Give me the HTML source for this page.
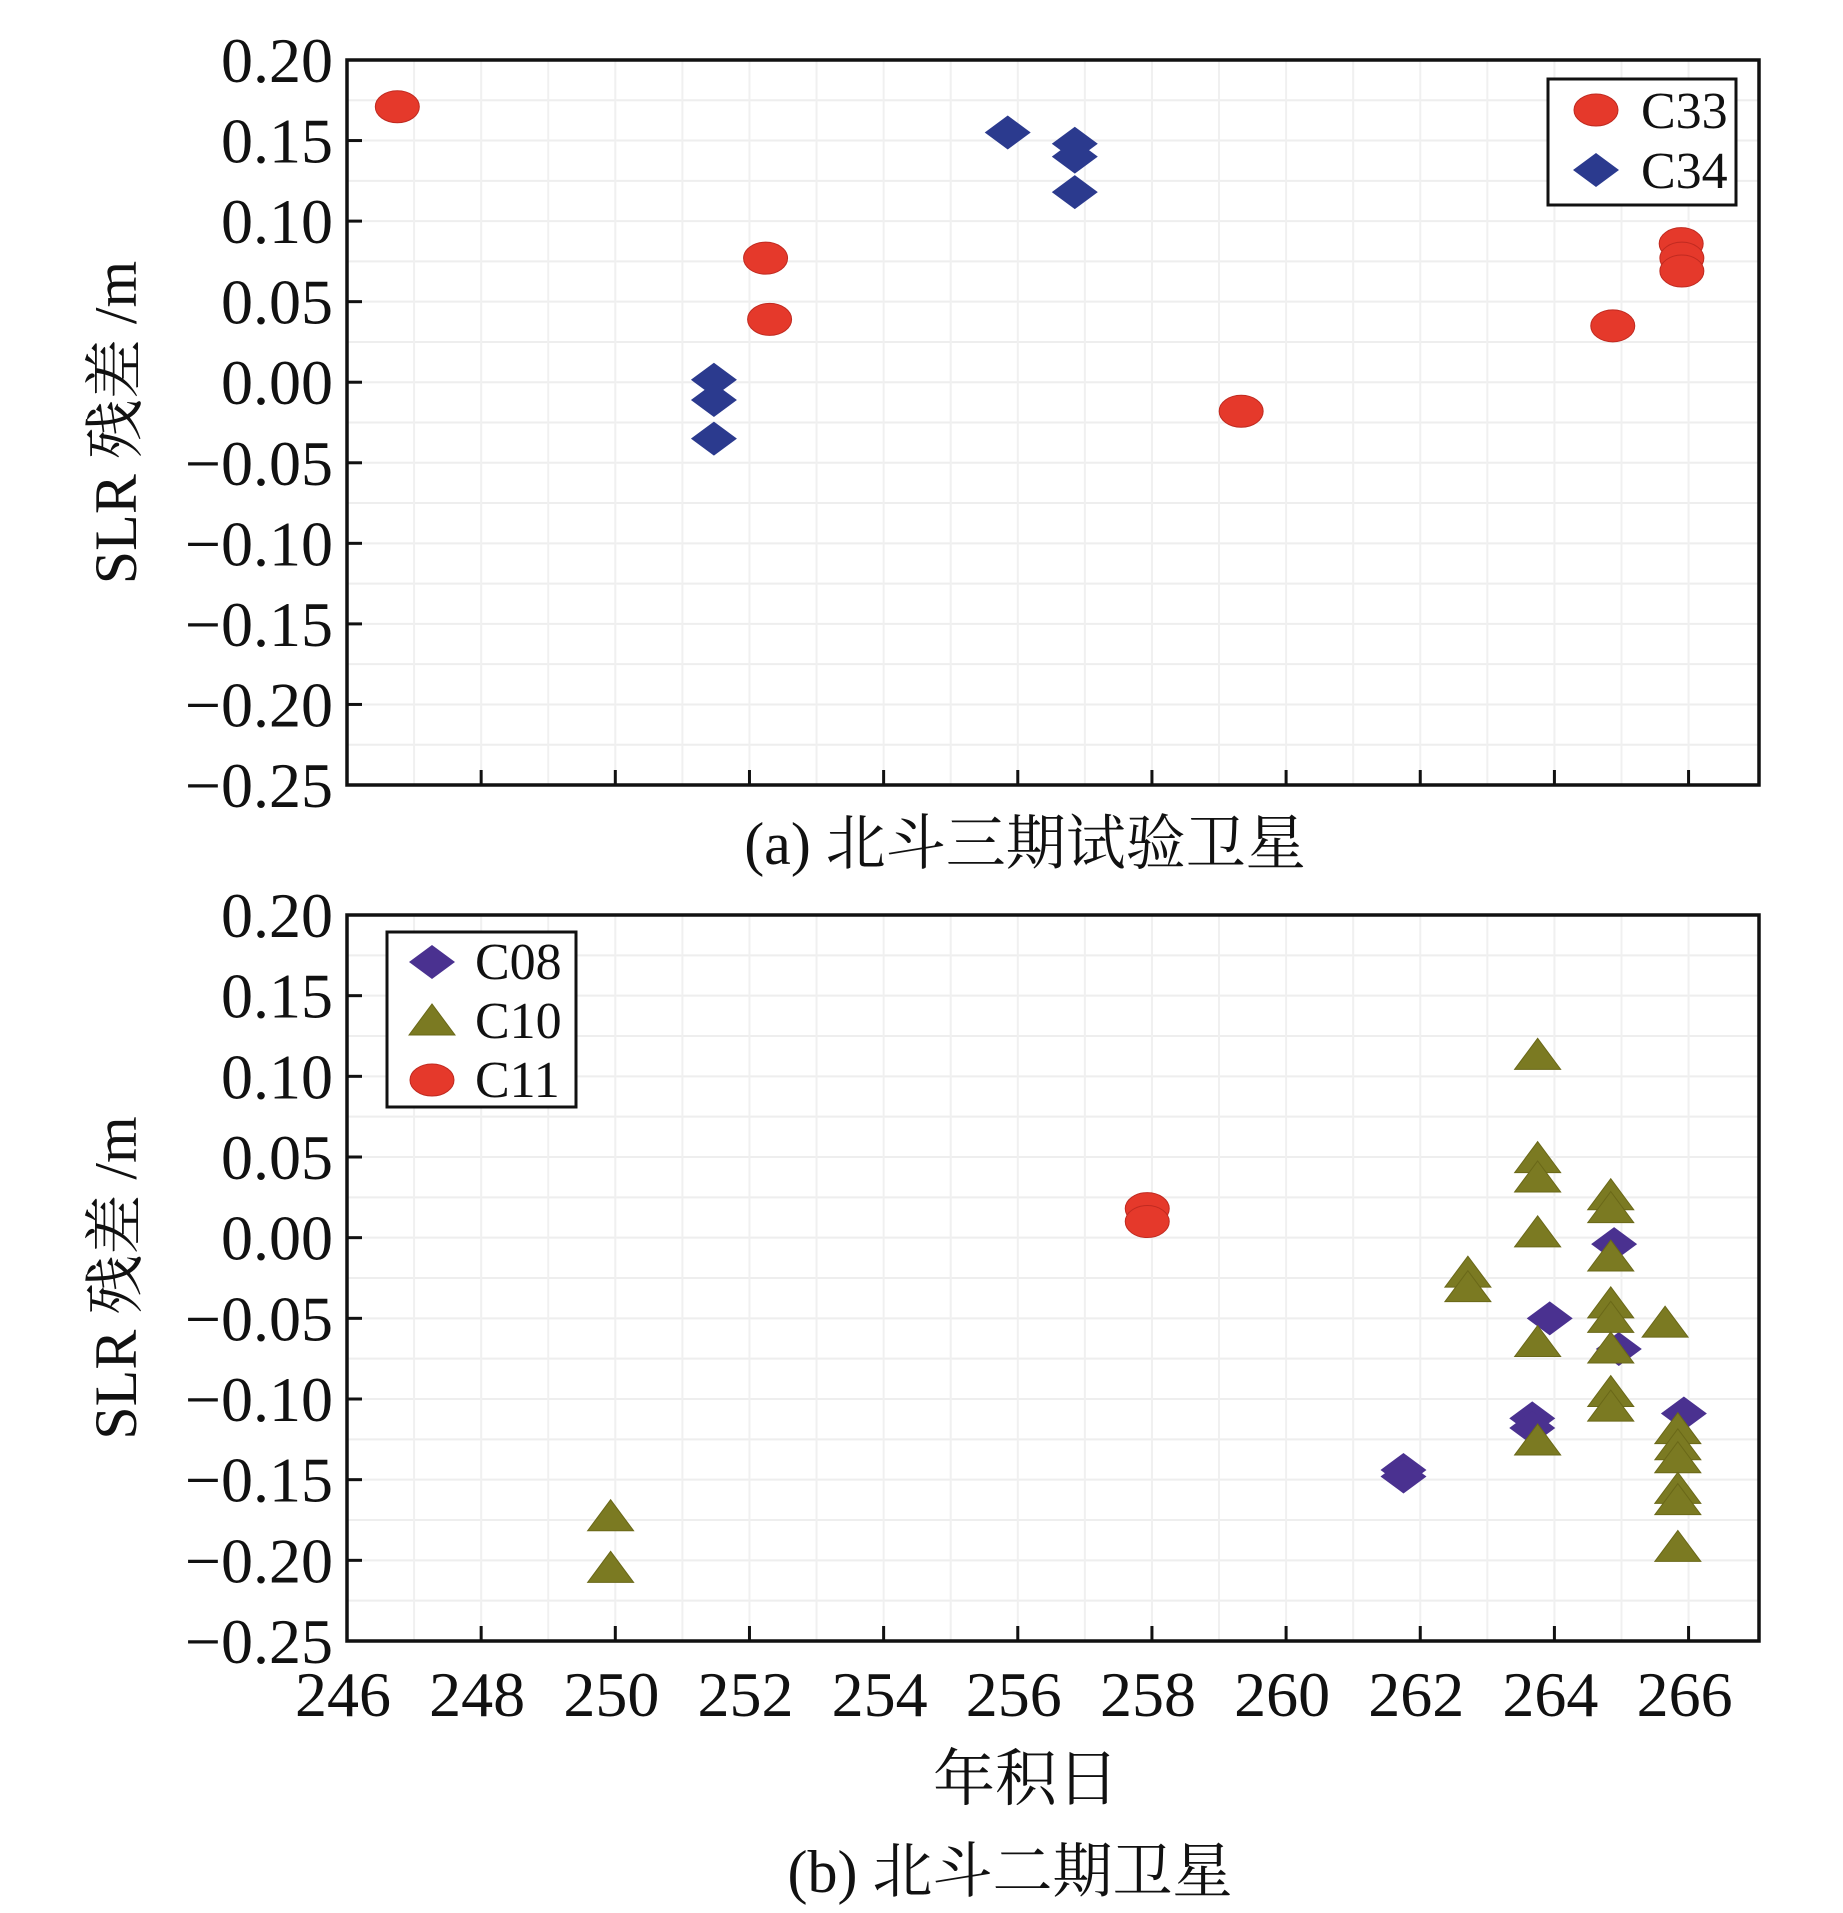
<!DOCTYPE html>
<html><head><meta charset="utf-8"><style>
html,body{margin:0;padding:0;background:#fff;}
svg{display:block;}
text{font-family:"Liberation Serif","Noto Serif CJK SC",serif;fill:#111;}
</style></head><body>
<svg id="chart" width="1843" height="1913" viewBox="0 0 1843 1913" xmlns="http://www.w3.org/2000/svg"></svg>
<script>
const xTicks=[246,248,250,252,254,256,258,260,262,264,266];
const yTicks=[0.20,0.15,0.10,0.05,0.00,-0.05,-0.10,-0.15,-0.20,-0.25];
const yTickLabels=["0.20","0.15","0.10","0.05","0.00","\u22120.05","\u22120.10","\u22120.15","\u22120.20","\u22120.25"];
const c33Days=[246.75,252.24,252.3,259.33,264.87,265.89,265.9,265.9];
const c33Vals=[0.171,0.077,0.039,-0.018,0.035,0.086,0.077,0.069];
const c34Days=[255.85,256.85,256.85,256.85,251.47,251.47,251.47];
const c34Vals=[0.155,0.148,0.140,0.118,0.0015,-0.011,-0.035];
const c11Days=[257.93,257.93];
const c11Vals=[0.018,0.010];
const c08Days=[261.75,261.75,263.67,263.67,263.93,264.89,264.96,265.93];
const c08Vals=[-0.144,-0.148,-0.112,-0.118,-0.050,-0.004,-0.069,-0.109];
const c10Days=[249.93,249.93,262.71,262.71,263.75,263.75,263.75,263.75,263.75,263.75,264.84,264.84,264.84,264.84,264.84,264.84,264.84,264.84,265.65,265.84,265.84,265.84,265.84,265.84,265.84];
const c10Vals=[-0.173,-0.205,-0.022,-0.031,0.113,0.049,0.037,0.003,-0.065,-0.126,0.026,0.018,-0.012,-0.041,-0.050,-0.069,-0.096,-0.105,-0.053,-0.119,-0.129,-0.137,-0.156,-0.163,-0.192];

const NS="http://www.w3.org/2000/svg";
const svg=document.getElementById('chart');
const L=347,R=1759,X0=246,X1=267.05;
function xs(d){return L+(d-X0)/(X1-X0)*(R-L);}
function mk(tag,attrs,parent){const e=document.createElementNS(NS,tag);for(const k in attrs)e.setAttribute(k,attrs[k]);(parent||svg).appendChild(e);return e;}

function panel(top,bottom,name,showXLabels){
  const g=mk('g',{});
  
  
  const ys=v=>top+(0.20-v)/0.45*(bottom-top);
  for(let v=0.175;v>-0.25;v-=0.025){mk('line',{x1:L,x2:R,y1:ys(v),y2:ys(v),stroke:'#eeeeee','stroke-width':2},g);}
  for(let d=247;d<267;d+=1){mk('line',{x1:xs(d),x2:xs(d),y1:top,y2:bottom,stroke:'#f0f0f0','stroke-width':2},g);}
  yTicks.forEach((v,i)=>{
    const t=mk('line',{x1:L,x2:L+15,y1:ys(v),y2:ys(v),stroke:'#111','stroke-width':3},g);
    
    
    const lb=mk('text',{x:L-14,y:ys(v)+22,'text-anchor':'end','font-size':64},g);
    lb.textContent=yTickLabels[i];
    
    
  });
  xTicks.forEach(d=>{
    const t=mk('line',{x1:xs(d),x2:xs(d),y1:bottom,y2:bottom-15,stroke:'#111','stroke-width':3},g);
    
    
    if(showXLabels){
      const lb=mk('text',{x:xs(d)-4,y:bottom+75,'text-anchor':'middle','font-size':64},g);
      lb.textContent=String(d);
      
      
    }
  });
  const fr=mk('rect',{x:L,y:top,width:R-L,height:bottom-top,fill:'none',stroke:'#111','stroke-width':3.5},g);
  
  
  const yt=mk('text',{x:0,y:0,'text-anchor':'middle','font-size':60,transform:`translate(136,${(top+bottom)/2}) rotate(-90)`},g);
  yt.textContent='SLR 残差 /m';
  
  
  return {g,ys};
}
function ellipse(x,y,g,fill){return mk('ellipse',{cx:x,cy:y,rx:22,ry:16,fill:fill||'#e5392b',stroke:'#c02a20','stroke-width':1},g);}
function diamond(x,y,g,fill){return mk('polygon',{points:`${x-23},${y} ${x},${y-17} ${x+23},${y} ${x},${y+17}`,fill:fill},g);}
function tri(x,y,g){return mk('polygon',{points:`${x-23},${y+14} ${x},${y-17} ${x+23},${y+14}`,fill:'#7b7a22',stroke:'#6a6818','stroke-width':1},g);}

const pa=panel(60,785,'panel-a',false);
c33Days.forEach((d,i)=>{const e=ellipse(xs(d),pa.ys(c33Vals[i]),pa.g);});
c34Days.forEach((d,i)=>{const e=diamond(xs(d),pa.ys(c34Vals[i]),pa.g,'#2b3a8e');});

const pb=panel(915,1641,'panel-b',true);
c11Days.forEach((d,i)=>{const e=ellipse(xs(d),pb.ys(c11Vals[i]),pb.g);});
c08Days.forEach((d,i)=>{const e=diamond(xs(d),pb.ys(c08Vals[i]),pb.g,'#4a3190');});
c10Days.forEach((d,i)=>{const e=tri(xs(d),pb.ys(c10Vals[i]),pb.g);});

const la=mk('g',{});


mk('rect',{x:1548,y:79,width:188,height:126,fill:'#fff',stroke:'#111','stroke-width':3},la);
ellipse(1596,110,la);
diamond(1596,170,la,'#2b3a8e');
let t=mk('text',{x:1641,y:128,'font-size':52},la);t.textContent='C33';
t=mk('text',{x:1641,y:188,'font-size':52},la);t.textContent='C34';
const lb=mk('g',{});


mk('rect',{x:387,y:932,width:189,height:175,fill:'#fff',stroke:'#111','stroke-width':3},lb);
diamond(432,962,lb,'#4a3190');
tri(432,1021,lb);
ellipse(432,1080,lb);
t=mk('text',{x:475,y:979,'font-size':52},lb);t.textContent='C08';
t=mk('text',{x:475,y:1038,'font-size':52},lb);t.textContent='C10';
t=mk('text',{x:475,y:1097,'font-size':52},lb);t.textContent='C11';

t=mk('text',{x:1025,y:864,'text-anchor':'middle','font-size':60});t.textContent='(a) 北斗三期试验卫星';


t=mk('text',{x:1026,y:1800,'text-anchor':'middle','font-size':62});t.textContent='年积日';


t=mk('text',{x:1010,y:1892,'text-anchor':'middle','font-size':60});t.textContent='(b) 北斗二期卫星';


</script>
</body></html>
